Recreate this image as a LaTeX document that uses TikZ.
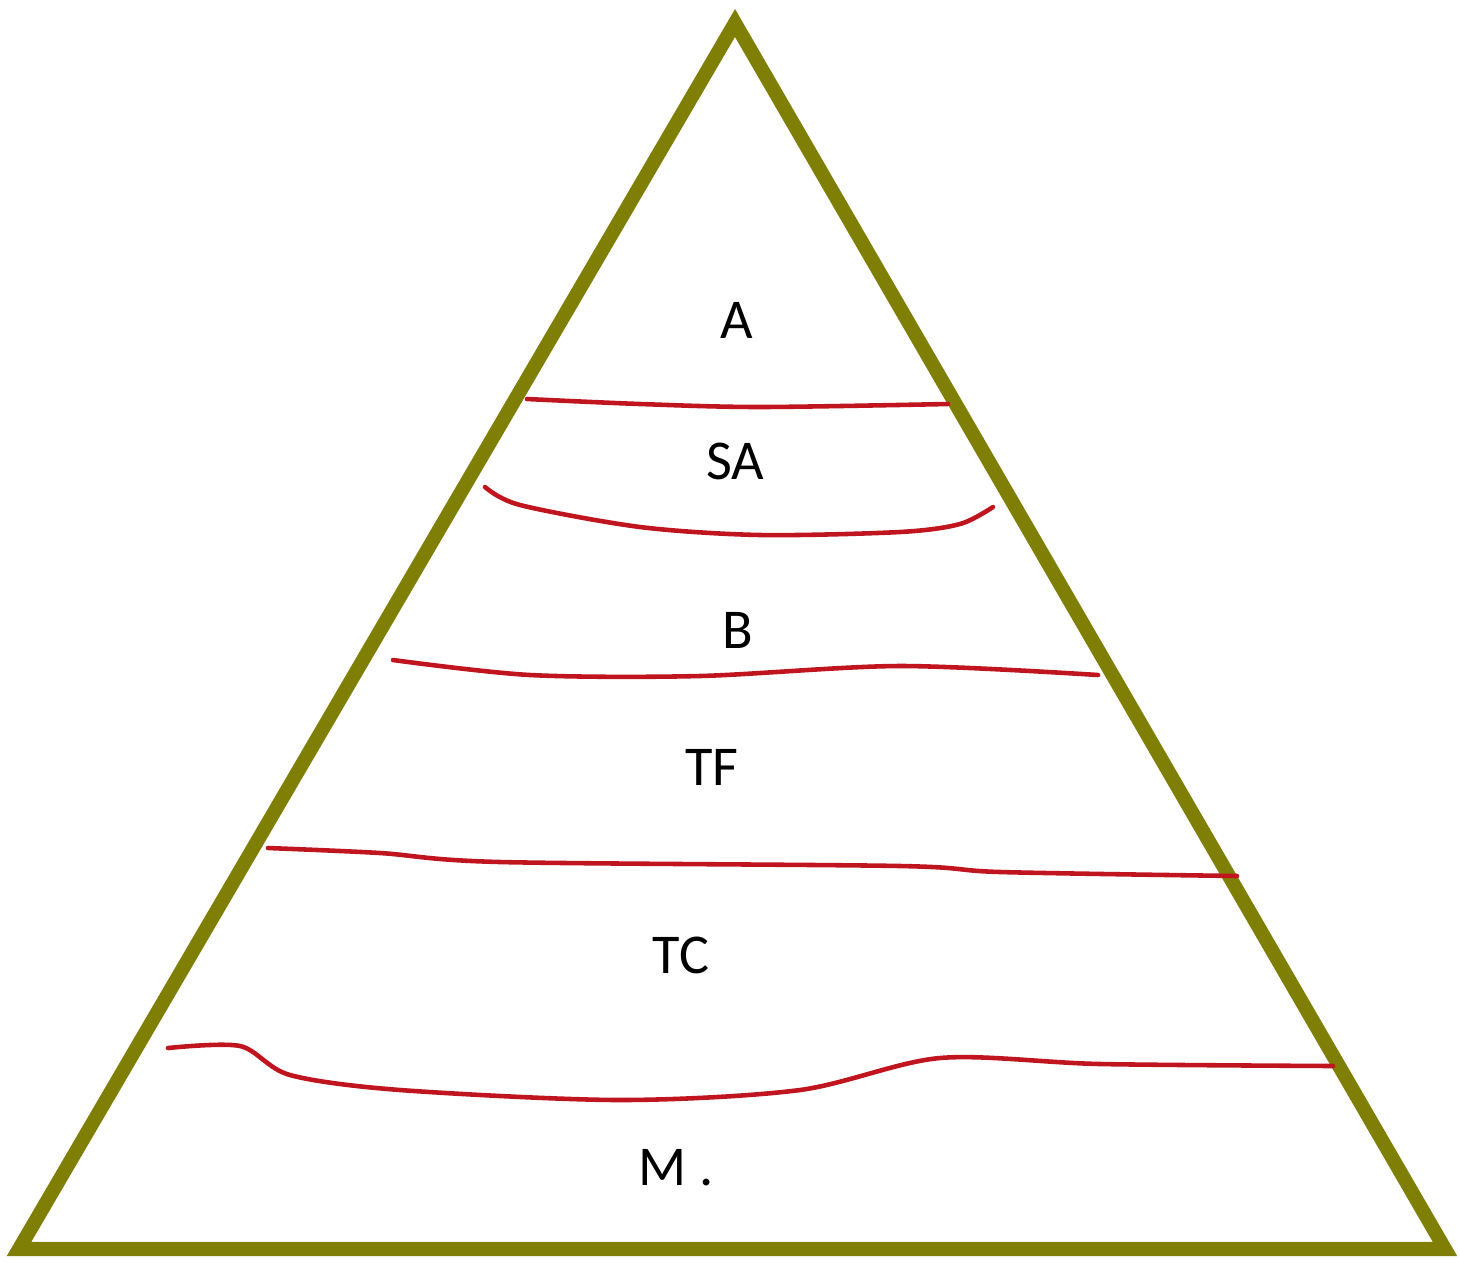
\documentclass[tikz,border=0pt]{standalone}
\usepackage{fontspec}
\setmainfont{Carlito}
\usetikzlibrary{calc}
\definecolor{PyrOlive}{HTML}{7F7F05}
\definecolor{PyrRed}{HTML}{C0141E}
\tikzset{
  pyramid/.style={draw=PyrOlive, line width=8pt, line join=miter},
  layerline/.style={draw=PyrRed, line width=2.6pt, line cap=round},
  layer/.style={font=\fontsize{32}{38}\selectfont, text=black, inner sep=0pt}
}
\begin{document}
\begin{tikzpicture}[x=0.02cm, y=-0.02cm]
\useasboundingbox (0,0) rectangle (1460,1262);
% outer triangle
\coordinate (top) at (735,23);
\coordinate (bl) at (19,1249);
\coordinate (br) at (1445,1249);
\draw[pyramid] (top) -- (br) -- (bl) -- cycle;
% hand drawn separators
\draw[layerline] plot[smooth] coordinates {(527,399) (640,404) (760,407) (948,404)};
\draw[layerline] plot[smooth] coordinates {(485,487) (520,505) (640,527) (760,535) (900,532) (960,524) (993,507)};
\draw[layerline] plot[smooth] coordinates {(393,660) (530,675) (700,676) (900,666) (1098,675)};
\draw[layerline] plot[smooth] coordinates {(268,848) (380,853) (500,862) (900,866) (1000,872) (1237,876)};
\draw[layerline] plot[smooth] coordinates {(168,1048) (240,1046) (290,1075) (400,1090) (620,1100) (800,1090) (940,1058) (1100,1064) (1333,1066)};
% layer names
\node[layer] (a) at (737,320) {A};
\node[layer] (sa) at (735,461) {SA};
\node[layer] (b) at (738,630) {B};
\node[layer] (tf) at (712,767) {TF};
\node[layer] (tc) at (681,955) {TC};
\node[layer] (m) at (676,1168) {M .};
\end{tikzpicture}
\end{document}
